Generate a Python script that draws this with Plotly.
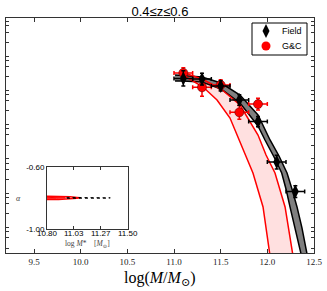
import numpy as np
import plotly.graph_objects as go

# ---------------- data ----------------
field_x = [11.1, 11.3, 11.5, 11.7, 11.9, 12.1, 12.3]
field_logphi = [-3.05, -3.07, -3.27, -3.68, -4.31, -5.49, -6.35]
field_yerr = [0.22, 0.17, 0.15, 0.15, 0.15, 0.20, 0.17]
field_xerr = [0.1] * 7

gc_x = [11.1, 11.3, 11.5, 11.7, 11.9]
gc_logphi = [-2.89, -3.31, -3.24, -4.04, -3.80]
gc_yerr = [0.15, 0.26, 0.15, 0.20, 0.17]
gc_xerr = [0.1] * 5

# black (Field) fit band edges
blk_up_x = [11.011, 11.096, 11.300, 11.504, 11.707, 11.900, 12.029, 12.125, 12.211, 12.264, 12.318, 12.371, 12.414, 12.425]
blk_up_y = [-2.953, -2.967, -3.011, -3.186, -3.535, -4.118, -4.846, -5.312, -5.807, -6.273, -6.797, -7.409, -8.050, -8.166]
blk_lo_x = [11.011, 11.096, 11.300, 11.504, 11.707, 11.900, 11.975, 12.072, 12.154, 12.200, 12.243, 12.297, 12.350, 12.361]
blk_lo_y = [-3.127, -3.127, -3.156, -3.360, -3.768, -4.438, -4.846, -5.341, -5.807, -6.273, -6.797, -7.409, -8.050, -8.166]

# red (G&C) fit band edges
red_up_x = [11.064, 11.096, 11.300, 11.504, 11.707, 11.900, 11.986, 12.082, 12.190, 12.264, 12.275]
red_up_y = [-2.865, -2.880, -3.069, -3.360, -3.826, -4.700, -5.283, -5.807, -6.797, -8.050, -8.225]
red_lo_x = [11.064, 11.096, 11.311, 11.461, 11.600, 11.696, 11.782, 11.846, 11.954, 12.018, 12.029]
red_lo_y = [-2.923, -2.953, -3.302, -3.681, -4.205, -4.846, -5.370, -5.807, -6.797, -8.050, -8.225]

# inset contours (log M*, alpha)
in_red_x = [10.80, 10.90, 11.00, 11.06, 11.09, 11.06, 11.00, 10.90, 10.80]
in_red_y = [-0.789, -0.790, -0.793, -0.797, -0.800, -0.803, -0.807, -0.810, -0.811]
in_red2_x = [10.80, 10.88, 10.96, 10.88, 10.80]
in_red2_y = [-0.797, -0.797, -0.800, -0.803, -0.803]
in_blk_x = [10.97, 11.10, 11.25, 11.32, 11.35, 11.32, 11.25, 11.10, 10.97]
in_blk_y = [-0.797, -0.797, -0.797, -0.798, -0.800, -0.802, -0.803, -0.803, -0.803]

x_ticks = [9.5, 10.0, 10.5, 11.0, 11.5, 12.0, 12.5]
x_ticklabels = ["9.5", "10.0", "10.5", "11.0", "11.5", "12.0", "12.5"]
inset_xticks = [10.80, 11.0333, 11.2667, 11.50]
inset_xticklabels = ["10.80", "11.03", "11.27", "11.50"]
inset_yticks = [-1.00, -0.60]
inset_yticklabels = ["-1.00", "-0.60"]

legend_names = ["Field", "G&C"]
legend_symbols = ["diamond-tall", "circle"]
legend_colors = ["black", "red"]

# minor-log-style y tick positions (no labels)
y_tickvals = []
for n in range(-9, 0):
    for m in [1, 2, 3, 4]:
        y_tickvals.append(n + np.log10(m))

SERIF = "Liberation Serif, DejaVu Serif, serif"
SANS = "Liberation Sans, Arial, sans-serif"

# pixel helpers for plot-area (paper) coordinates
L, R, T, B = 6, 314, 18, 253
def px_x(p):
    return (p - L) / (R - L)
def px_y(p):
    return 1 - (p - T) / (B - T)

fig = go.Figure()

# black band
fig.add_trace(go.Scatter(x=blk_up_x + blk_lo_x[::-1], y=blk_up_y + blk_lo_y[::-1],
                         fill="toself", fillcolor="#7f7f7f", line=dict(width=0),
                         mode="lines", showlegend=False, hoverinfo="skip"))
fig.add_trace(go.Scatter(x=blk_up_x, y=blk_up_y, mode="lines",
                         line=dict(color="black", width=1.5), showlegend=False))
fig.add_trace(go.Scatter(x=blk_lo_x, y=blk_lo_y, mode="lines",
                         line=dict(color="black", width=1.5), showlegend=False))

# red band
fig.add_trace(go.Scatter(x=red_up_x + red_lo_x[::-1], y=red_up_y + red_lo_y[::-1],
                         fill="toself", fillcolor="rgba(255,0,0,0.12)", line=dict(width=0),
                         mode="lines", showlegend=False, hoverinfo="skip"))
fig.add_trace(go.Scatter(x=red_up_x, y=red_up_y, mode="lines",
                         line=dict(color="red", width=1.5), showlegend=False))
fig.add_trace(go.Scatter(x=red_lo_x, y=red_lo_y, mode="lines",
                         line=dict(color="red", width=1.5), showlegend=False))

# data points
fig.add_trace(go.Scatter(x=gc_x, y=gc_logphi, mode="markers", name="G&C", showlegend=False,
                         marker=dict(symbol="circle", size=9, color="red",
                                     line=dict(color="#600", width=0.6)),
                         error_x=dict(type="data", array=gc_xerr, color="red", thickness=1.5, width=2),
                         error_y=dict(type="data", array=gc_yerr, color="red", thickness=1.5, width=2)))
fig.add_trace(go.Scatter(x=field_x, y=field_logphi, mode="markers", name="Field", showlegend=False,
                         marker=dict(symbol="diamond-tall", size=10, color="black"),
                         error_x=dict(type="data", array=field_xerr, color="black", thickness=1.5, width=2),
                         error_y=dict(type="data", array=field_yerr, color="black", thickness=1.5, width=2)))

# inset
fig.add_trace(go.Scatter(x=in_red_x, y=in_red_y, mode="lines", xaxis="x2", yaxis="y2",
                         line=dict(color="red", width=1.5), showlegend=False))
fig.add_trace(go.Scatter(x=in_red2_x, y=in_red2_y, mode="lines", xaxis="x2", yaxis="y2",
                         line=dict(color="red", width=1), showlegend=False))
fig.add_trace(go.Scatter(x=in_blk_x, y=in_blk_y, mode="lines", xaxis="x2", yaxis="y2",
                         line=dict(color="black", width=1, dash="dot"), showlegend=False))

# manual legend (symbols on an overlay axis in plot-fraction units)
fig.add_shape(type="rect", xref="paper", yref="paper",
              x0=px_x(252), x1=px_x(307), y0=px_y(55), y1=px_y(23),
              line=dict(color="black", width=1), fillcolor="rgba(0,0,0,0)", layer="above")
leg_y_px = [31, 46]
fig.add_trace(go.Scatter(x=[px_x(266)] * 2, y=[px_y(p) for p in leg_y_px], mode="markers",
                         xaxis="x3", yaxis="y3", showlegend=False, hoverinfo="skip",
                         marker=dict(symbol=legend_symbols, size=[10, 9], color=legend_colors,
                                     opacity=1, line=dict(width=0))))
for name, p in zip(legend_names, leg_y_px):
    fig.add_annotation(text=name, xref="paper", yref="paper", x=px_x(304), y=px_y(p),
                       xanchor="right", yanchor="middle", showarrow=False,
                       font=dict(family=SANS, size=9, color="black"))

# inset x tick labels as text placed just under the inset frame
for v, t in zip(inset_xticks, inset_xticklabels):
    fig.add_annotation(text=t, xref="x2", yref="paper", x=v, y=px_y(233.5),
                       xanchor="center", yanchor="middle", showarrow=False,
                       font=dict(family=SANS, size=8, color="black"))

axcol = "#333"
fig.update_layout(
    width=327, height=291,
    margin=dict(l=L, r=327 - R, t=T, b=291 - B),
    paper_bgcolor="white", plot_bgcolor="rgba(0,0,0,0)",
    showlegend=False,
    title=dict(text="0.4≤z≤0.6", x=160 / 327, xref="container", xanchor="center",
               y=1 - 11 / 291, yref="container", yanchor="middle",
               font=dict(family=SANS, size=13, color="black")),
    xaxis=dict(range=[9.2, 12.5], domain=[0, 1], tickvals=x_ticks, ticktext=x_ticklabels,
               ticks="inside", ticklen=4, tickcolor=axcol, mirror="allticks",
               showline=True, linecolor=axcol, linewidth=1.2, showgrid=False, zeroline=False,
               tickfont=dict(family=SERIF, size=9, color="#222")),
    yaxis=dict(range=[-8.14, -1.29], domain=[0, 1], tickvals=y_tickvals, showticklabels=False,
               ticks="inside", ticklen=3, tickcolor=axcol, mirror="allticks",
               showline=True, linecolor=axcol, linewidth=1.2, showgrid=False, zeroline=False),
    xaxis2=dict(range=[10.8, 11.5], domain=[px_x(47), px_x(127.5)], anchor="y2",
                tickvals=inset_xticks, showticklabels=False,
                ticks="inside", ticklen=3, tickcolor=axcol, mirror="allticks",
                showline=True, linecolor=axcol, linewidth=1, showgrid=False, zeroline=False),
    yaxis2=dict(range=[-1.0, -0.6], domain=[px_y(229), px_y(166.7)], anchor="x2",
                tickvals=inset_yticks, ticktext=inset_yticklabels,
                ticks="inside", ticklen=3, tickcolor=axcol, mirror="allticks",
                showline=True, linecolor=axcol, linewidth=1, showgrid=False, zeroline=False,
                tickfont=dict(family=SANS, size=8, color="black")),
    xaxis3=dict(range=[0, 1], domain=[0, 1], anchor="y3", overlaying="x", visible=False),
    yaxis3=dict(range=[0, 1], domain=[0, 1], anchor="x3", overlaying="y", visible=False),
)

fig.add_annotation(text="log(<i>M</i>/<i>M</i><sub>⊙</sub>)", xref="paper", yref="paper",
                   x=0.5, y=px_y(278), xanchor="center", yanchor="middle", showarrow=False,
                   font=dict(family=SERIF, size=16, color="black"))
fig.add_annotation(text="log <i>M</i>*    [<i>M</i><sub>⊙</sub>]", xref="paper", yref="paper",
                   x=px_x(87), y=px_y(244), xanchor="center", yanchor="middle",
                   showarrow=False, font=dict(family=SERIF, size=7.5, color="#444"))
fig.add_annotation(text="<i>α</i>", xref="paper", yref="paper",
                   x=px_x(18), y=px_y(198), xanchor="center", yanchor="middle",
                   showarrow=False, font=dict(family=SERIF, size=8, color="#444"))

fig.write_html("out.html", config={"displayModeBar": False},
               post_script="document.body.style.margin='0';document.body.style.padding='0';")
